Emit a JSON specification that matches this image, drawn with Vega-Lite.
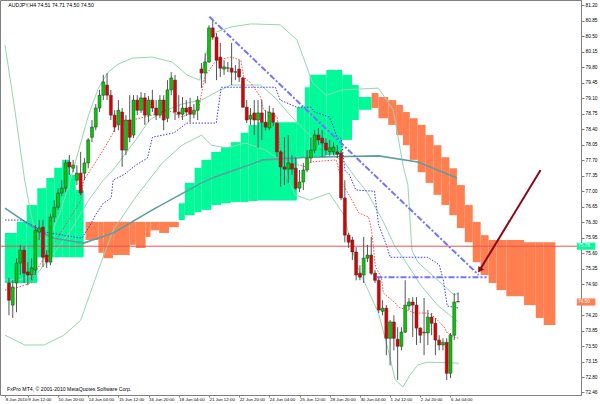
{
"$schema":"https://vega.github.io/schema/vega-lite/v6.json",
"width":581,"height":395,"autosize":"none",
"padding":{"left":0,"top":0,"right":19,"bottom":9},
"background":"#ffffff",
"config":{"font":"Liberation Sans","view":{"stroke":"#808080","strokeWidth":1},
"axis":{"grid":false,"labelFontSize":5.2,"labelColor":"#000000","tickColor":"#808080","domainColor":"#808080","labelFont":"Liberation Sans","labelOverlap":false,"labelFlush":false,"labelBound":false,"labelSeparation":0}},
"datasets":{
"candles":[
{"i":3,"o":74.93,"h":75.04,"l":74.20,"c":74.54},
{"i":4,"o":74.43,"h":74.99,"l":74.14,"c":74.84},
{"i":5,"o":74.93,"h":75.49,"l":74.27,"c":75.38},
{"i":6,"o":75.38,"h":75.79,"l":75.11,"c":75.67},
{"i":7,"o":75.67,"h":75.76,"l":74.93,"c":75.15},
{"i":8,"o":75.18,"h":75.40,"l":74.88,"c":75.11},
{"i":9,"o":75.11,"h":75.49,"l":74.99,"c":75.27},
{"i":10,"o":75.22,"h":76.24,"l":75.11,"c":76.12},
{"i":11,"o":76.08,"h":76.35,"l":75.90,"c":76.17},
{"i":12,"o":76.19,"h":76.35,"l":75.29,"c":75.51},
{"i":13,"o":75.56,"h":75.67,"l":75.27,"c":75.40},
{"i":14,"o":75.40,"h":76.49,"l":75.33,"c":76.42},
{"i":15,"o":76.42,"h":76.80,"l":76.30,"c":76.64},
{"i":16,"o":76.64,"h":77.07,"l":76.58,"c":76.96},
{"i":17,"o":76.96,"h":77.25,"l":76.89,"c":77.07},
{"i":18,"o":77.07,"h":77.71,"l":76.98,"c":77.64},
{"i":19,"o":77.66,"h":77.82,"l":77.37,"c":77.55},
{"i":20,"o":77.52,"h":77.71,"l":77.43,"c":77.59},
{"i":21,"o":77.25,"h":77.59,"l":77.14,"c":77.41},
{"i":22,"o":77.41,"h":77.89,"l":76.91,"c":76.96},
{"i":23,"o":77.41,"h":77.75,"l":77.25,"c":77.64},
{"i":24,"o":77.64,"h":78.20,"l":77.52,"c":78.16},
{"i":25,"o":78.22,"h":78.61,"l":78.11,"c":78.45},
{"i":26,"o":78.45,"h":78.97,"l":78.38,"c":78.88},
{"i":27,"o":78.88,"h":79.29,"l":78.79,"c":79.17},
{"i":28,"o":79.17,"h":79.63,"l":79.06,"c":79.47},
{"i":29,"o":79.40,"h":79.67,"l":79.06,"c":79.17},
{"i":30,"o":79.17,"h":79.29,"l":78.61,"c":78.72},
{"i":31,"o":78.72,"h":78.83,"l":78.34,"c":78.45},
{"i":32,"o":78.50,"h":79.06,"l":78.38,"c":78.83},
{"i":33,"o":78.79,"h":78.88,"l":77.55,"c":77.93},
{"i":34,"o":77.93,"h":78.72,"l":77.82,"c":78.61},
{"i":35,"o":78.61,"h":79.17,"l":78.11,"c":78.22},
{"i":36,"o":78.27,"h":79.17,"l":78.20,"c":79.06},
{"i":37,"o":79.06,"h":79.17,"l":78.72,"c":78.83},
{"i":38,"o":78.83,"h":79.24,"l":78.77,"c":79.11},
{"i":39,"o":79.11,"h":79.22,"l":78.50,"c":78.72},
{"i":40,"o":78.72,"h":79.15,"l":78.56,"c":79.06},
{"i":41,"o":79.06,"h":79.29,"l":78.79,"c":78.88},
{"i":42,"o":78.88,"h":79.06,"l":78.61,"c":78.72},
{"i":43,"o":78.72,"h":79.17,"l":78.65,"c":79.06},
{"i":44,"o":79.06,"h":79.17,"l":78.38,"c":78.61},
{"i":45,"o":78.65,"h":79.51,"l":78.56,"c":79.29},
{"i":46,"o":79.29,"h":79.69,"l":79.17,"c":79.56},
{"i":47,"o":79.51,"h":79.63,"l":78.61,"c":78.79},
{"i":48,"o":78.79,"h":79.17,"l":78.65,"c":78.74},
{"i":49,"o":78.74,"h":79.13,"l":78.61,"c":78.88},
{"i":50,"o":78.88,"h":79.06,"l":78.70,"c":78.79},
{"i":51,"o":78.90,"h":79.11,"l":78.56,"c":78.74},
{"i":52,"o":78.74,"h":78.97,"l":78.65,"c":78.83},
{"i":53,"o":78.83,"h":79.15,"l":78.61,"c":79.06},
{"i":54,"o":79.76,"h":79.90,"l":79.33,"c":79.67},
{"i":55,"o":79.67,"h":80.12,"l":79.44,"c":79.92},
{"i":56,"o":79.92,"h":80.75,"l":79.90,"c":80.69},
{"i":57,"o":80.69,"h":80.87,"l":80.42,"c":80.48},
{"i":58,"o":80.48,"h":80.57,"l":79.51,"c":79.96},
{"i":59,"o":80.03,"h":80.35,"l":79.58,"c":79.78},
{"i":60,"o":79.76,"h":79.96,"l":79.63,"c":79.81},
{"i":61,"o":79.78,"h":79.92,"l":79.69,"c":79.79},
{"i":62,"o":79.78,"h":80.35,"l":79.40,"c":79.69},
{"i":63,"o":79.69,"h":79.85,"l":79.51,"c":79.70},
{"i":64,"o":79.76,"h":79.96,"l":79.47,"c":79.58},
{"i":65,"o":79.56,"h":79.58,"l":78.88,"c":78.90},
{"i":66,"o":78.90,"h":79.06,"l":78.54,"c":78.61},
{"i":67,"o":78.63,"h":78.88,"l":78.50,"c":78.72},
{"i":68,"o":78.77,"h":79.06,"l":78.27,"c":78.61},
{"i":69,"o":78.61,"h":79.06,"l":77.98,"c":78.77},
{"i":70,"o":78.77,"h":79.06,"l":78.16,"c":78.56},
{"i":71,"o":78.56,"h":78.83,"l":78.38,"c":78.45},
{"i":72,"o":78.43,"h":78.93,"l":78.38,"c":78.79},
{"i":73,"o":78.77,"h":78.88,"l":78.47,"c":78.56},
{"i":74,"o":78.54,"h":78.56,"l":77.77,"c":77.89},
{"i":75,"o":77.89,"h":77.93,"l":77.10,"c":77.55},
{"i":76,"o":77.55,"h":78.22,"l":77.14,"c":77.50},
{"i":77,"o":77.50,"h":78.27,"l":77.19,"c":77.64},
{"i":78,"o":77.62,"h":77.82,"l":77.37,"c":77.50},
{"i":79,"o":77.52,"h":77.77,"l":77.03,"c":77.07},
{"i":80,"o":77.07,"h":77.48,"l":76.98,"c":77.21},
{"i":81,"o":77.21,"h":77.64,"l":77.03,"c":77.48},
{"i":82,"o":77.48,"h":77.93,"l":77.43,"c":77.75},
{"i":83,"o":77.75,"h":78.22,"l":77.64,"c":77.93},
{"i":84,"o":77.93,"h":78.38,"l":77.86,"c":78.27},
{"i":85,"o":78.27,"h":78.43,"l":78.04,"c":78.16},
{"i":86,"o":78.20,"h":78.38,"l":77.77,"c":78.09},
{"i":87,"o":78.09,"h":78.20,"l":77.82,"c":77.93},
{"i":88,"o":77.89,"h":78.16,"l":77.80,"c":77.98},
{"i":89,"o":77.89,"h":78.11,"l":77.82,"c":78.00},
{"i":90,"o":77.89,"h":78.04,"l":77.75,"c":77.84},
{"i":91,"o":77.86,"h":77.93,"l":76.80,"c":76.85},
{"i":92,"o":76.85,"h":77.25,"l":75.85,"c":76.01},
{"i":93,"o":76.01,"h":76.06,"l":75.72,"c":75.85},
{"i":94,"o":75.90,"h":75.97,"l":75.45,"c":75.63},
{"i":95,"o":75.63,"h":75.74,"l":74.99,"c":75.11},
{"i":96,"o":75.15,"h":75.33,"l":74.99,"c":75.06},
{"i":97,"o":75.11,"h":75.97,"l":74.93,"c":75.49},
{"i":98,"o":75.49,"h":75.79,"l":75.40,"c":75.56},
{"i":99,"o":75.56,"h":75.97,"l":75.11,"c":75.15},
{"i":100,"o":75.15,"h":75.22,"l":74.93,"c":74.99},
{"i":101,"o":74.99,"h":75.06,"l":74.25,"c":74.32},
{"i":102,"o":74.29,"h":74.54,"l":74.20,"c":74.36},
{"i":103,"o":74.36,"h":74.43,"l":73.30,"c":73.68},
{"i":104,"o":73.68,"h":74.09,"l":73.07,"c":74.05},
{"i":105,"o":74.05,"h":74.20,"l":73.41,"c":73.68},
{"i":106,"o":73.66,"h":73.93,"l":72.74,"c":73.50},
{"i":107,"o":73.50,"h":73.93,"l":73.41,"c":73.82},
{"i":108,"o":73.82,"h":74.99,"l":73.80,"c":74.43},
{"i":109,"o":74.41,"h":74.59,"l":74.32,"c":74.50},
{"i":110,"o":74.50,"h":74.61,"l":73.71,"c":74.43},
{"i":111,"o":74.43,"h":74.61,"l":73.53,"c":73.91},
{"i":112,"o":73.91,"h":73.93,"l":73.57,"c":73.75},
{"i":113,"o":73.80,"h":74.59,"l":73.30,"c":73.82},
{"i":114,"o":73.80,"h":74.32,"l":73.53,"c":74.16},
{"i":115,"o":74.16,"h":74.25,"l":73.75,"c":74.02},
{"i":116,"o":74.02,"h":74.14,"l":73.30,"c":73.64},
{"i":117,"o":73.64,"h":73.75,"l":73.41,"c":73.53},
{"i":118,"o":73.53,"h":73.68,"l":73.41,"c":73.59},
{"i":119,"o":73.59,"h":73.68,"l":72.74,"c":72.89},
{"i":120,"o":72.89,"h":73.80,"l":72.78,"c":73.75},
{"i":121,"o":73.75,"h":74.70,"l":73.64,"c":74.50},
{"i":122,"o":74.51,"h":74.71,"l":74.50,"c":74.50}
],
"cloud":[
{"a":1.9,"b":5.1,"t":76.06,"u":74.93,"k":"up"},
{"a":5.1,"b":7.7,"t":76.31,"u":74.93,"k":"up"},
{"a":7.7,"b":10.5,"t":76.69,"u":74.93,"k":"up"},
{"a":10.5,"b":12.9,"t":77.07,"u":75.51,"k":"up"},
{"a":12.9,"b":15.0,"t":77.30,"u":75.51,"k":"up"},
{"a":15.0,"b":17.1,"t":77.53,"u":75.51,"k":"up"},
{"a":17.1,"b":19.1,"t":77.71,"u":75.51,"k":"up"},
{"a":19.1,"b":20.7,"t":77.37,"u":75.51,"k":"up"},
{"a":20.7,"b":22.8,"t":77.03,"u":75.51,"k":"up"},
{"a":23.3,"b":26.7,"t":76.31,"u":75.90,"k":"down"},
{"a":26.7,"b":28.0,"t":76.31,"u":75.61,"k":"down"},
{"a":28.0,"b":30.6,"t":76.31,"u":75.49,"k":"down"},
{"a":30.6,"b":35.0,"t":76.31,"u":75.56,"k":"down"},
{"a":35.0,"b":36.6,"t":76.31,"u":75.79,"k":"down"},
{"a":36.6,"b":39.2,"t":76.31,"u":75.72,"k":"down"},
{"a":39.2,"b":40.5,"t":76.31,"u":75.97,"k":"down"},
{"a":40.5,"b":42.8,"t":76.31,"u":76.12,"k":"down"},
{"a":42.8,"b":45.4,"t":76.31,"u":76.06,"k":"down"},
{"a":45.4,"b":48.0,"t":76.31,"u":76.19,"k":"down"},
{"a":48.0,"b":49.6,"t":76.73,"u":76.35,"k":"up"},
{"a":49.6,"b":52.2,"t":77.19,"u":76.46,"k":"up"},
{"a":52.2,"b":54.0,"t":77.53,"u":76.53,"k":"up"},
{"a":54.0,"b":56.6,"t":77.71,"u":76.58,"k":"up"},
{"a":56.6,"b":59.2,"t":77.89,"u":76.69,"k":"up"},
{"a":59.2,"b":61.8,"t":78.00,"u":76.73,"k":"up"},
{"a":61.8,"b":64.4,"t":78.11,"u":76.76,"k":"up"},
{"a":64.4,"b":66.5,"t":78.32,"u":76.76,"k":"up"},
{"a":66.5,"b":68.9,"t":78.50,"u":76.78,"k":"up"},
{"a":68.9,"b":79.3,"t":78.56,"u":76.79,"k":"up"},
{"a":79.3,"b":81.4,"t":78.90,"u":77.77,"k":"up"},
{"a":81.4,"b":82.7,"t":79.35,"u":77.77,"k":"up"},
{"a":82.7,"b":87.1,"t":79.63,"u":77.77,"k":"up"},
{"a":87.1,"b":91.3,"t":79.74,"u":77.82,"k":"up"},
{"a":91.3,"b":93.9,"t":79.63,"u":78.16,"k":"up"},
{"a":93.9,"b":95.7,"t":79.40,"u":78.61,"k":"up"},
{"a":95.7,"b":99.1,"t":79.13,"u":78.84,"k":"up"},
{"a":99.1,"b":100.9,"t":79.22,"u":78.88,"k":"down"},
{"a":100.9,"b":103.5,"t":79.13,"u":78.65,"k":"down"},
{"a":103.5,"b":105.6,"t":79.06,"u":78.50,"k":"down"},
{"a":105.6,"b":107.4,"t":78.95,"u":78.27,"k":"down"},
{"a":107.4,"b":109.2,"t":78.79,"u":78.04,"k":"down"},
{"a":109.2,"b":111.3,"t":78.65,"u":77.71,"k":"down"},
{"a":111.3,"b":113.4,"t":78.50,"u":77.43,"k":"down"},
{"a":113.4,"b":115.5,"t":78.27,"u":77.19,"k":"down"},
{"a":115.5,"b":117.6,"t":78.04,"u":76.92,"k":"down"},
{"a":117.6,"b":119.7,"t":77.77,"u":76.69,"k":"down"},
{"a":119.7,"b":121.7,"t":77.52,"u":76.46,"k":"down"},
{"a":121.7,"b":123.8,"t":77.14,"u":76.17,"k":"down"},
{"a":123.8,"b":125.9,"t":76.69,"u":75.85,"k":"down"},
{"a":125.9,"b":128.0,"t":76.31,"u":75.40,"k":"down"},
{"a":128.0,"b":130.1,"t":76.01,"u":75.11,"k":"down"},
{"a":130.1,"b":132.2,"t":75.90,"u":74.93,"k":"down"},
{"a":132.2,"b":134.8,"t":75.90,"u":74.77,"k":"down"},
{"a":134.8,"b":139.5,"t":75.90,"u":74.63,"k":"down"},
{"a":139.5,"b":142.6,"t":75.85,"u":74.43,"k":"down"},
{"a":142.6,"b":144.7,"t":75.85,"u":74.14,"k":"down"},
{"a":144.7,"b":147.8,"t":75.85,"u":73.98,"k":"down"}
],
"lines":[
{"s":"U","i":1.95,"v":80.30},{"s":"U","i":4.56,"v":78.84},{"s":"U","i":7.16,"v":77.25},{"s":"U","i":9.24,"v":76.31},{"s":"U","i":11.07,"v":75.94},{"s":"U","i":13.67,"v":75.94},{"s":"U","i":16.28,"v":76.46},{"s":"U","i":18.88,"v":77.14},{"s":"U","i":21.48,"v":77.93},{"s":"U","i":24.09,"v":78.72},{"s":"U","i":26.69,"v":79.33},{"s":"U","i":29.30,"v":79.69},{"s":"U","i":31.90,"v":79.87},{"s":"U","i":35.81,"v":80.01},{"s":"U","i":41.02,"v":80.03},{"s":"U","i":46.22,"v":79.92},{"s":"U","i":50.13,"v":79.63},{"s":"U","i":53.52,"v":79.51},{"s":"U","i":54.82,"v":79.96},{"s":"U","i":56.12,"v":80.37},{"s":"U","i":57.94,"v":80.60},{"s":"U","i":61.85,"v":80.71},{"s":"U","i":67.06,"v":80.78},{"s":"U","i":74.87,"v":80.76},{"s":"U","i":79.30,"v":80.42},{"s":"U","i":83.46,"v":79.45},{"s":"U","i":87.11,"v":79.17},{"s":"U","i":91.28,"v":79.29},{"s":"U","i":100.91,"v":79.33},{"s":"U","i":104.82,"v":78.84},{"s":"U","i":107.42,"v":77.59},{"s":"U","i":108.72,"v":77.14},{"s":"U","i":109.77,"v":75.67},{"s":"U","i":111.33,"v":75.40},{"s":"U","i":115.76,"v":75.06},{"s":"U","i":120.96,"v":74.66},{"s":"U","i":122.27,"v":74.70},
{"s":"M","i":1.95,"v":75.00},{"s":"M","i":5.86,"v":75.00},{"s":"M","i":10.55,"v":75.15},{"s":"M","i":14.97,"v":75.61},{"s":"M","i":19.40,"v":76.12},{"s":"M","i":24.09,"v":76.80},{"s":"M","i":27.99,"v":77.25},{"s":"M","i":30.60,"v":77.48},{"s":"M","i":36.59,"v":78.16},{"s":"M","i":40.23,"v":78.61},{"s":"M","i":43.62,"v":78.79},{"s":"M","i":48.83,"v":78.97},{"s":"M","i":54.04,"v":79.06},{"s":"M","i":57.94,"v":79.24},{"s":"M","i":61.85,"v":79.40},{"s":"M","i":69.66,"v":79.40},{"s":"M","i":73.57,"v":79.11},{"s":"M","i":77.47,"v":78.72},{"s":"M","i":81.38,"v":78.38},{"s":"M","i":85.29,"v":78.02},{"s":"M","i":91.80,"v":77.66},{"s":"M","i":94.92,"v":77.30},{"s":"M","i":98.05,"v":76.96},{"s":"M","i":102.21,"v":76.31},{"s":"M","i":105.08,"v":75.79},{"s":"M","i":108.72,"v":75.33},{"s":"M","i":112.11,"v":74.88},{"s":"M","i":116.54,"v":74.43},{"s":"M","i":122.01,"v":74.05},
{"s":"L","i":1.95,"v":73.75},{"s":"L","i":7.16,"v":73.53},{"s":"L","i":12.37,"v":73.53},{"s":"L","i":17.58,"v":73.75},{"s":"L","i":22.01,"v":74.09},{"s":"L","i":26.69,"v":75.22},{"s":"L","i":30.60,"v":76.12},{"s":"L","i":36.59,"v":76.87},{"s":"L","i":43.62,"v":77.64},{"s":"L","i":48.83,"v":78.04},{"s":"L","i":54.04,"v":78.27},{"s":"L","i":56.64,"v":78.04},{"s":"L","i":60.55,"v":77.98},{"s":"L","i":65.76,"v":78.09},{"s":"L","i":70.96,"v":77.93},{"s":"L","i":74.87,"v":77.71},{"s":"L","i":78.78,"v":76.92},{"s":"L","i":82.68,"v":76.80},{"s":"L","i":87.89,"v":76.96},{"s":"L","i":91.80,"v":76.46},{"s":"L","i":94.92,"v":75.38},{"s":"L","i":100.91,"v":74.25},{"s":"L","i":103.52,"v":73.41},{"s":"L","i":105.34,"v":72.74},{"s":"L","i":107.42,"v":72.58},{"s":"L","i":109.24,"v":72.85},{"s":"L","i":111.33,"v":73.08},{"s":"L","i":113.93,"v":73.14},{"s":"L","i":122.27,"v":73.12},
{"s":"MA","i":1.95,"v":76.62},{"s":"MA","i":10.55,"v":76.12},{"s":"MA","i":14.97,"v":75.94},{"s":"MA","i":22.79,"v":75.83},{"s":"MA","i":30.60,"v":76.06},{"s":"MA","i":41.02,"v":76.58},{"s":"MA","i":54.04,"v":77.19},{"s":"MA","i":57.42,"v":77.32},{"s":"MA","i":70.44,"v":77.71},{"s":"MA","i":82.68,"v":77.77},{"s":"MA","i":100.91,"v":77.80},{"s":"MA","i":111.33,"v":77.66},{"s":"MA","i":121.74,"v":77.30},
{"s":"T","i":1.95,"v":74.77},{"s":"T","i":4.56,"v":74.81},{"s":"T","i":8.98,"v":74.93},{"s":"T","i":9.77,"v":75.15},{"s":"T","i":13.67,"v":75.67},{"s":"T","i":16.28,"v":76.01},{"s":"T","i":19.40,"v":76.42},{"s":"T","i":22.01,"v":76.80},{"s":"T","i":22.79,"v":77.25},{"s":"T","i":24.61,"v":77.48},{"s":"T","i":27.99,"v":77.93},{"s":"T","i":30.60,"v":78.32},{"s":"T","i":31.38,"v":78.56},{"s":"T","i":35.81,"v":78.61},{"s":"T","i":41.02,"v":78.72},{"s":"T","i":44.92,"v":78.84},{"s":"T","i":48.83,"v":78.68},{"s":"T","i":53.26,"v":78.84},{"s":"T","i":54.82,"v":79.58},{"s":"T","i":57.94,"v":79.96},{"s":"T","i":61.85,"v":80.03},{"s":"T","i":64.45,"v":79.96},{"s":"T","i":65.23,"v":79.58},{"s":"T","i":67.06,"v":79.45},{"s":"T","i":69.66,"v":79.13},{"s":"T","i":70.44,"v":78.84},{"s":"T","i":74.09,"v":78.68},{"s":"T","i":74.87,"v":77.93},{"s":"T","i":77.47,"v":77.64},{"s":"T","i":81.90,"v":77.55},{"s":"T","i":82.68,"v":77.66},{"s":"T","i":89.71,"v":77.71},{"s":"T","i":91.28,"v":77.19},{"s":"T","i":93.88,"v":76.80},{"s":"T","i":95.70,"v":76.51},{"s":"T","i":98.31,"v":76.42},{"s":"T","i":99.09,"v":76.12},{"s":"T","i":100.13,"v":75.29},{"s":"T","i":101.69,"v":75.06},{"s":"T","i":102.21,"v":74.70},{"s":"T","i":105.34,"v":74.48},{"s":"T","i":106.12,"v":74.39},{"s":"T","i":110.55,"v":74.25},{"s":"T","i":113.93,"v":74.25},{"s":"T","i":115.76,"v":74.16},{"s":"T","i":118.36,"v":73.93},{"s":"T","i":119.14,"v":73.80},{"s":"T","i":120.96,"v":73.71},{"s":"T","i":122.27,"v":73.68},
{"s":"K","i":1.95,"v":76.35},{"s":"K","i":6.64,"v":76.35},{"s":"K","i":12.37,"v":76.08},{"s":"K","i":22.27,"v":75.94},{"s":"K","i":24.09,"v":76.17},{"s":"K","i":25.91,"v":76.46},{"s":"K","i":27.99,"v":76.73},{"s":"K","i":30.08,"v":76.85},{"s":"K","i":30.60,"v":77.25},{"s":"K","i":33.72,"v":77.39},{"s":"K","i":36.59,"v":77.59},{"s":"K","i":39.71,"v":77.75},{"s":"K","i":41.02,"v":78.22},{"s":"K","i":46.74,"v":78.32},{"s":"K","i":50.13,"v":78.54},{"s":"K","i":57.94,"v":78.54},{"s":"K","i":59.24,"v":79.35},{"s":"K","i":73.57,"v":79.35},{"s":"K","i":74.87,"v":79.06},{"s":"K","i":79.30,"v":78.90},{"s":"K","i":82.94,"v":78.90},{"s":"K","i":83.98,"v":78.79},{"s":"K","i":87.89,"v":78.68},{"s":"K","i":88.93,"v":78.47},{"s":"K","i":89.97,"v":78.20},{"s":"K","i":91.02,"v":78.20},{"s":"K","i":92.06,"v":77.46},{"s":"K","i":93.10,"v":77.39},{"s":"K","i":94.92,"v":77.03},{"s":"K","i":99.87,"v":77.00},{"s":"K","i":100.91,"v":76.26},{"s":"K","i":102.99,"v":75.79},{"s":"K","i":104.04,"v":75.51},{"s":"K","i":113.93,"v":75.51},{"s":"K","i":116.02,"v":75.40},{"s":"K","i":117.06,"v":75.33},{"s":"K","i":118.10,"v":75.00},{"s":"K","i":119.14,"v":74.41},{"s":"K","i":122.27,"v":74.36},
{"s":"TR1","i":56.12,"v":80.94},{"s":"TR1","i":127.47,"v":75.11},
{"s":"TR2","i":100.39,"v":75.06},{"s":"TR2","i":129.56,"v":75.06},
{"s":"AR","i":143.88,"v":77.48},{"s":"AR","i":127.73,"v":75.22}
],
"tags":[
{"a":153.5,"b":158.4,"t":75.84,"u":75.68,"m":75.76,"lab":"75.76","k":"bid"},
{"a":153.5,"b":158.4,"t":74.58,"u":74.42,"m":74.50,"lab":"74.50","k":"last"}
],
"texts":[
{"i":2.8,"v":81.21,"txt":"AUDJPY,H4  74.51 74.71 74.50 74.50"},
{"i":2.5,"v":72.53,"txt":"FxPro MT4, © 2001-2010 MetaQuotes Software Corp."}
]
},
"layer":[
{"data":{"name":"cloud"},"mark":{"type":"rect"},
"encoding":{
"x":{"field":"a","type":"quantitative","title":null,"scale":{"domain":[1.95,153.26],"nice":false,"zero":false},
"axis":{"orient":"bottom","tickCount":200,"values":[2,8,16,24,32,40,48,56,64,72,80,88,96,104,112,120],"labelExpr":"datum.value < 5 ? '8 Jun 2010' : ['', '9 Jun 12:00', '10 Jun 20:00', '14 Jun 04:00', '15 Jun 12:00', '16 Jun 20:00', '18 Jun 04:00', '21 Jun 12:00', '22 Jun 20:00', '24 Jun 04:00', '25 Jun 12:00', '28 Jun 20:00', '30 Jun 04:00', '1 Jul 12:00', '2 Jul 20:00', '6 Jul 04:00'][round(datum.value / 8)]","labelAlign":"left","labelBaseline":"top","labelFontSize":4.4,"tickSize":2,"labelPadding":0.5,"domain":false,"labelFlush":false,"labelOverlap":false}},
"x2":{"field":"b"},
"y":{"field":"t","type":"quantitative","title":null,"scale":{"domain":[72.40,81.32],"nice":false,"zero":false},
"axis":{"orient":"right","tickCount":200,"values":[81.2,80.85,80.5,80.15,79.8,79.45,79.1,78.75,78.4,78.05,77.7,77.35,77.0,76.65,76.3,75.95,75.6,75.25,74.9,74.2,73.85,73.5,73.15,72.8,72.46],"format":".2f","labelFontSize":4.8,"tickSize":3,"labelPadding":1,"labelOverlap":false,"labelFlush":false,"labelBaseline":"middle"}},
"y2":{"field":"u"},
"color":{"field":"k","type":"nominal","scale":{"domain":["up","down"],"range":["#00FA9A","#FF7F50"]},"legend":null}
}},
{"data":{"name":"lines"},"transform":[{"filter":"indexof(['U','M','L'], datum.s) >= 0"}],
"mark":{"type":"line","color":"#93d6b0","strokeWidth":1},
"encoding":{"x":{"field":"i","type":"quantitative","title":null,"scale":{"domain":[1.95,153.26],"nice":false,"zero":false}},
"y":{"field":"v","type":"quantitative","title":null,"scale":{"domain":[72.40,81.32],"nice":false,"zero":false}},
"detail":{"field":"s"}}},
{"data":{"name":"lines"},"transform":[{"filter":"datum.s == 'MA'"}],
"mark":{"type":"line","color":"#5F9EA0","strokeWidth":1.6},
"encoding":{"x":{"field":"i","type":"quantitative","title":null,"scale":{"domain":[1.95,153.26],"nice":false,"zero":false}},
"y":{"field":"v","type":"quantitative","title":null,"scale":{"domain":[72.40,81.32],"nice":false,"zero":false}}}},
{"data":{"name":"lines"},"transform":[{"filter":"datum.s == 'T'"}],
"mark":{"type":"line","color":"#ff4a4a","strokeWidth":1,"strokeDash":[1.5,1.5]},
"encoding":{"x":{"field":"i","type":"quantitative","title":null,"scale":{"domain":[1.95,153.26],"nice":false,"zero":false}},
"y":{"field":"v","type":"quantitative","title":null,"scale":{"domain":[72.40,81.32],"nice":false,"zero":false}}}},
{"data":{"name":"lines"},"transform":[{"filter":"datum.s == 'K'"}],
"mark":{"type":"line","color":"#3a3aff","strokeWidth":1,"strokeDash":[1.5,1.5]},
"encoding":{"x":{"field":"i","type":"quantitative","title":null,"scale":{"domain":[1.95,153.26],"nice":false,"zero":false}},
"y":{"field":"v","type":"quantitative","title":null,"scale":{"domain":[72.40,81.32],"nice":false,"zero":false}}}},
{"data":{"values":[{"v":75.76}]},"mark":{"type":"rule","color":"#f05050","strokeWidth":1},
"encoding":{"y":{"field":"v","type":"quantitative","title":null,"scale":{"domain":[72.40,81.32],"nice":false,"zero":false}}}},
{"data":{"name":"candles"},"mark":{"type":"rule","color":"#555555","strokeWidth":1},
"encoding":{"x":{"field":"i","type":"quantitative","title":null,"scale":{"domain":[1.95,153.26],"nice":false,"zero":false}},
"y":{"field":"l","type":"quantitative","title":null,"scale":{"domain":[72.40,81.32],"nice":false,"zero":false}},
"y2":{"field":"h"}}},
{"data":{"name":"candles"},"mark":{"type":"bar","size":3,"stroke":"#333333","strokeWidth":0.5},
"encoding":{"x":{"field":"i","type":"quantitative","title":null,"scale":{"domain":[1.95,153.26],"nice":false,"zero":false}},
"y":{"field":"o","type":"quantitative","title":null,"scale":{"domain":[72.40,81.32],"nice":false,"zero":false}},
"y2":{"field":"c"},
"color":{"condition":{"test":"datum.c > datum.o","value":"#00cc00"},"value":"#dd0000"}}},
{"data":{"name":"lines"},"transform":[{"filter":"datum.s == 'TR1' || datum.s == 'TR2'"}],
"mark":{"type":"line","color":"#7373ff","strokeWidth":2,"strokeDash":[6,2,2,2]},
"encoding":{"x":{"field":"i","type":"quantitative","title":null,"scale":{"domain":[1.95,153.26],"nice":false,"zero":false}},
"y":{"field":"v","type":"quantitative","title":null,"scale":{"domain":[72.40,81.32],"nice":false,"zero":false}},
"detail":{"field":"s"}}},
{"data":{"name":"lines"},"transform":[{"filter":"datum.s == 'AR'"}],
"mark":{"type":"line","color":"#8b0a1a","strokeWidth":2},
"encoding":{"x":{"field":"i","type":"quantitative","title":null,"scale":{"domain":[1.95,153.26],"nice":false,"zero":false}},
"y":{"field":"v","type":"quantitative","title":null,"scale":{"domain":[72.40,81.32],"nice":false,"zero":false}}}},
{"data":{"name":"lines"},"transform":[{"filter":"datum.s == 'AR' && datum.i < 130"}],
"mark":{"type":"point","shape":"triangle-up","angle":212,"size":45,"filled":true,"color":"#8b0a1a","opacity":1},
"encoding":{"x":{"field":"i","type":"quantitative","title":null,"scale":{"domain":[1.95,153.26],"nice":false,"zero":false}},
"y":{"field":"v","type":"quantitative","title":null,"scale":{"domain":[72.40,81.32],"nice":false,"zero":false}}}},
{"data":{"name":"tags"},"mark":{"type":"rect"},
"encoding":{"x":{"field":"a","type":"quantitative","title":null,"scale":{"domain":[1.95,153.26],"nice":false,"zero":false}},
"x2":{"field":"b"},
"y":{"field":"t","type":"quantitative","title":null,"scale":{"domain":[72.40,81.32],"nice":false,"zero":false}},
"y2":{"field":"u"},
"color":{"field":"k","type":"nominal","scale":{"domain":["bid","last"],"range":["#ff2020","#000000"]},"legend":null}}},
{"data":{"name":"tags"},"mark":{"type":"text","color":"#ffffff","fontSize":4.8,"align":"left","baseline":"middle","dx":1},
"encoding":{"x":{"field":"a","type":"quantitative","title":null,"scale":{"domain":[1.95,153.26],"nice":false,"zero":false}},
"y":{"field":"m","type":"quantitative","title":null,"scale":{"domain":[72.40,81.32],"nice":false,"zero":false}},
"text":{"field":"lab"}}},
{"data":{"name":"texts"},"mark":{"type":"text","color":"#000000","fontSize":5.2,"align":"left","baseline":"middle"},
"encoding":{"x":{"field":"i","type":"quantitative","title":null,"scale":{"domain":[1.95,153.26],"nice":false,"zero":false}},
"y":{"field":"v","type":"quantitative","title":null,"scale":{"domain":[72.40,81.32],"nice":false,"zero":false}},
"text":{"field":"txt"}}}
]
}
